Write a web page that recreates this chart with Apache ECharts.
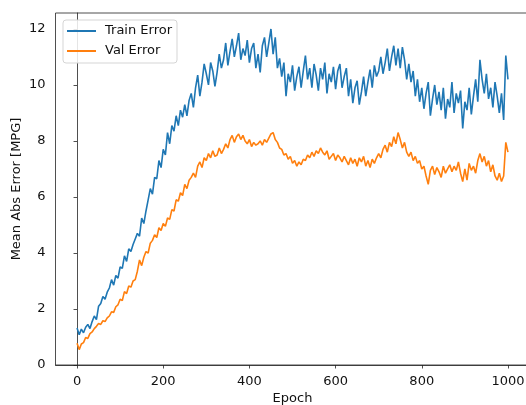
<!DOCTYPE html>
<html>
<head>
<meta charset="utf-8">
<script src="https://cdn.jsdelivr.net/npm/echarts@6/dist/echarts.min.js"></script>
<style>
html,body{margin:0;padding:0;background:#fff;}
#chart{width:526px;height:405px;}
</style>
</head>
<body>
<div id="chart"></div>
<script>
// Sampled every 5 epochs (0..1000)
const epochStep = 5;
const trainError = [
1.32,1.08,1.28,1.15,1.35,1.45,1.3,1.55,1.75,1.62,
2.1,2.2,2.45,2.35,2.6,2.75,3.05,2.85,3.2,3.1,
3.5,3.45,3.9,3.7,4.15,4.05,4.3,4.5,4.7,4.6,
5.25,5.05,5.5,5.9,6.3,6.1,6.7,6.65,7.3,7.05,
7.7,7.5,8.3,7.9,8.55,8.35,8.9,8.55,9.1,8.85,
9.3,8.9,9.45,9.7,9.2,9.9,10.35,9.6,10.1,10.75,
10.4,10.0,10.8,10.5,9.95,10.45,11.1,10.6,10.9,11.5,
10.7,11.2,11.65,11.0,11.4,11.85,10.9,11.3,11.05,11.6,
10.8,11.3,11.5,10.6,11.1,10.45,11.4,11.7,11.0,11.5,
12.0,11.1,11.7,10.6,10.95,10.3,10.8,9.6,10.4,10.1,
10.7,9.8,10.3,10.65,9.9,10.5,11.05,10.2,10.6,9.9,
10.75,10.35,9.8,10.6,10.2,10.8,9.7,10.4,10.1,10.65,
9.85,10.5,10.75,9.9,10.3,10.6,9.6,10.2,9.35,9.9,
10.15,9.3,9.75,10.3,9.6,10.1,10.55,9.9,10.7,10.3,
10.5,11.0,10.4,10.8,11.3,10.5,11.0,11.4,10.7,11.3,
10.6,11.35,10.9,10.2,10.75,10.1,10.5,9.6,10.2,9.4,
9.9,9.15,9.7,10.1,8.9,9.5,10.0,9.3,9.75,9.1,
9.9,8.8,9.5,9.2,10.1,9.0,9.7,9.35,9.8,8.45,
9.4,9.1,9.9,8.95,9.6,10.2,9.4,10.9,10.2,9.7,
10.4,9.5,9.9,9.2,10.1,9.6,9.0,9.7,8.75,11.05,
10.2
];
const valError = [
0.78,0.55,0.75,0.8,0.98,0.95,1.12,1.18,1.3,1.38,
1.48,1.45,1.58,1.55,1.68,1.75,1.9,1.88,2.08,2.15,
2.35,2.3,2.62,2.55,2.82,2.78,3.0,3.05,3.35,3.75,
3.55,3.85,4.05,4.0,4.35,4.45,4.65,4.55,4.9,4.8,
5.05,4.95,5.25,5.2,5.55,5.5,5.9,5.85,6.15,6.05,
6.45,6.3,6.6,6.7,6.85,6.7,7.1,7.25,7.05,7.4,
7.3,7.55,7.4,7.65,7.45,7.5,7.75,7.55,7.7,7.9,
7.75,8.05,8.2,7.95,8.15,8.25,8.05,8.2,8.0,7.9,
8.05,7.8,7.95,7.85,7.9,8.0,7.85,8.05,7.95,8.1,
8.25,8.3,8.05,7.95,7.75,7.7,7.5,7.55,7.35,7.45,
7.2,7.3,7.1,7.25,7.15,7.35,7.3,7.5,7.4,7.6,
7.45,7.65,7.55,7.75,7.6,7.5,7.65,7.35,7.45,7.55,
7.3,7.5,7.4,7.25,7.45,7.3,7.15,7.4,7.2,7.35,
7.1,7.4,7.25,7.45,7.1,7.3,7.05,7.35,7.2,7.4,
7.55,7.4,7.7,7.85,7.6,7.95,7.8,8.15,7.9,8.3,
8.05,7.75,7.95,7.6,7.45,7.6,7.3,7.45,7.2,7.3,
7.0,7.1,6.75,6.45,6.95,7.1,6.8,7.05,6.9,6.7,
7.1,6.85,7.0,7.15,6.9,7.1,6.95,7.25,6.85,6.55,
7.0,6.6,7.2,6.95,7.1,6.85,7.3,7.55,7.25,7.45,
7.1,7.3,6.9,7.15,6.75,6.6,6.85,6.55,6.75,7.95,
7.6
];
const xTicks = [0, 200, 400, 600, 800, 1000];
const yTicks = [0, 2, 4, 6, 8, 10, 12];

const toPairs = arr => arr.map((v, i) => [i * epochStep, v]);
const font = 'DejaVu Sans';

const chart = echarts.init(document.getElementById('chart'), null, {renderer: 'canvas'});
chart.setOption({
  animation: false,
  backgroundColor: '#fff',
  grid: {
    left: 55.5, top: 13, width: 474, height: 352,
    containLabel: false, outerBoundsMode: 'none',
    show: true, borderColor: '#222', borderWidth: 0.8, backgroundColor: 'transparent'
  },
  legend: {
    left: 63, top: 20, orient: 'vertical',
    data: ['Train Error', 'Val Error'],
    icon: 'rect', itemWidth: 29, itemHeight: 2, itemGap: 4,
    padding: [3, 5, 4, 4],
    backgroundColor: 'rgba(255,255,255,0.85)',
    borderColor: '#d5d5d5', borderWidth: 1, borderRadius: 3,
    textStyle: {fontFamily: font, fontSize: 13, color: '#111', lineHeight: 16, padding: [0, 0, 0, 4]}
  },
  xAxis: {
    type: 'value', min: -50, max: 1050,
    name: 'Epoch', nameLocation: 'middle', nameGap: 27, nameMoveOverlap: false,
    nameTextStyle: {fontFamily: font, fontSize: 13, color: '#111'},
    axisLine: {show: true, lineStyle: {color: '#222', width: 0.8}},
    axisTick: {show: true, length: 3.5, customValues: xTicks, lineStyle: {color: '#222', width: 0.8}},
    axisLabel: {customValues: xTicks, fontFamily: font, fontSize: 13, color: '#111', margin: 10,
      formatter: v => String(v)},
    splitLine: {show: false}
  },
  yAxis: {
    type: 'value', min: 0, max: 12.57,
    name: 'Mean Abs Error [MPG]', nameLocation: 'middle', nameGap: 32, nameMoveOverlap: false,
    nameRotate: 90,
    nameTextStyle: {fontFamily: font, fontSize: 13, color: '#111'},
    axisLine: {show: true, lineStyle: {color: '#222', width: 0.8}},
    axisTick: {show: true, length: 3.5, customValues: yTicks, lineStyle: {color: '#222', width: 0.8}},
    axisLabel: {customValues: yTicks, fontFamily: font, fontSize: 13, color: '#111', margin: 10},
    splitLine: {show: false}
  },
  series: [
    {
      name: 'Train Error', type: 'line', data: toPairs(trainError),
      showSymbol: false, symbol: 'none', color: '#1f77b4',
      lineStyle: {width: 1.6, color: '#1f77b4'}
    },
    {
      name: 'Val Error', type: 'line', data: toPairs(valError),
      showSymbol: false, symbol: 'none', color: '#ff7f0e',
      lineStyle: {width: 1.6, color: '#ff7f0e'}
    }
  ]
});
</script>
</body>
</html>
